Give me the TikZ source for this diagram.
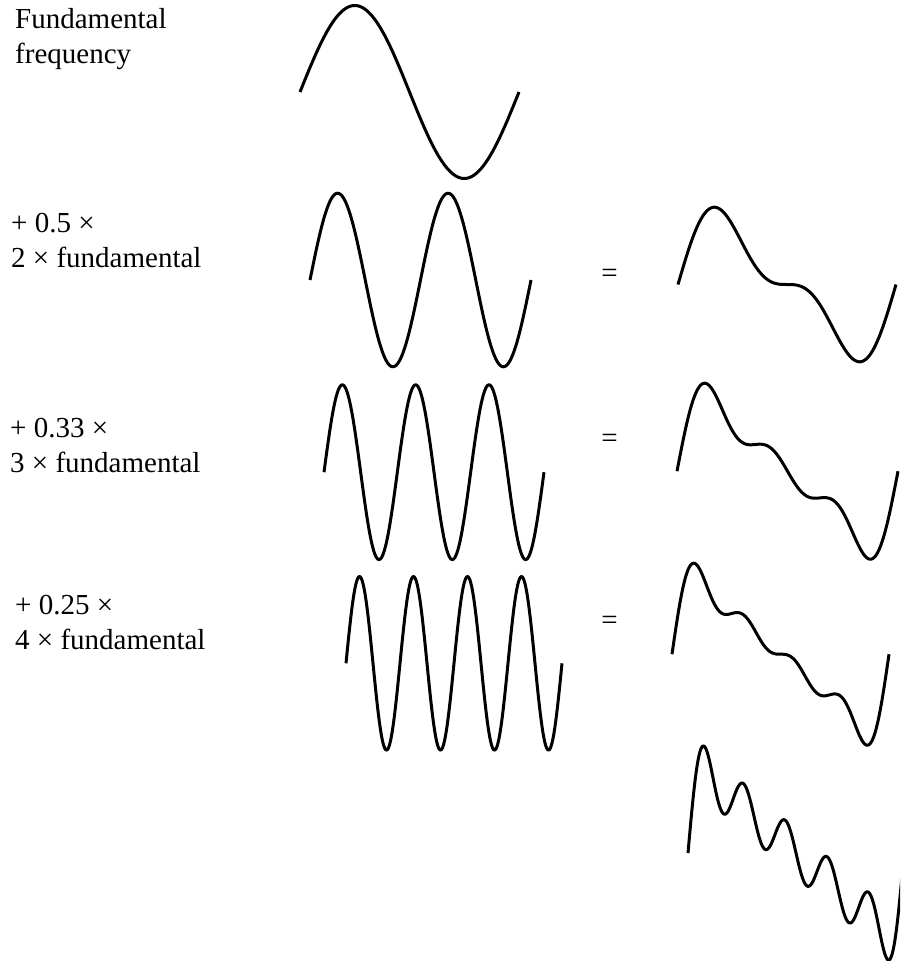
\documentclass[tikz,border=0pt]{standalone}
\usepackage{fontspec}
\setmainfont{Liberation Serif}
\usetikzlibrary{positioning}

\begin{document}
\begin{tikzpicture}[x=1pt, y=-1pt,
    onda/.style={line width=3pt, line join=round},
    rotulo/.style={anchor=north west, inner sep=0pt, align=left,
                   font=\fontsize{29}{35}\selectfont},
    igual/.style={anchor=base, inner sep=0pt, font=\fontsize{29}{35}\selectfont}]
    \useasboundingbox (0,0) rectangle (900,961);
    \clip (0,0) rectangle (900,961);

    % Rotulos
    \node[rotulo] (fund) at (15,8.5) {Fundamental\\frequency};
    \node[rotulo] (harm2) at (11,213.5) {+ 0.5 ×\\2 × fundamental};
    \node[rotulo] (harm3) at (10,418.5) {+ 0.33 ×\\3 × fundamental};
    \node[rotulo] (harm4) at (15,595) {+ 0.25 ×\\4 × fundamental};

    % Sinais de igual
    \node[igual] (igual2) at (609.5,282.4) {=};
    \node[igual] (igual3) at (609.5,447.4) {=};
    \node[igual] (igual4) at (609.5,629.4) {=};

    % Fundamental e harmonicos
    \draw[onda] plot[domain=0:360, samples=120] ({300+\x/360*219}, {92-86.5*sin(\x)});
    \draw[onda] plot[domain=0:360, samples=160] ({310+\x/360*221}, {280-86.8*sin(2*\x)});
    \draw[onda] plot[domain=0:360, samples=200] ({324+\x/360*220}, {472.2-87.4*sin(3*\x)});
    \draw[onda] plot[domain=0:360, samples=240] ({346+\x/360*216}, {663.3-86.8*sin(4*\x)});

    % Somas
    \draw[onda] plot[domain=0:360, samples=160]
        ({678+\x/360*218}, {284.5-59.5*(sin(\x)+sin(2*\x)/2)});
    \draw[onda] plot[domain=0:360, samples=200]
        ({677+\x/360*221}, {471.2-61*(sin(\x)+sin(2*\x)/2+sin(3*\x)/3)});
    \draw[onda] plot[domain=0:360, samples=240]
        ({672+\x/360*217}, {654.2-59.6*(sin(\x)+sin(2*\x)/2+sin(3*\x)/3+sin(4*\x)/4)});
    \draw[onda] plot[domain=0:360, samples=300]
        ({688+\x/360*216}, {853-60*(sin(\x)+sin(2*\x)/2+sin(3*\x)/3+sin(4*\x)/4+0.5*sin(5*\x))});
\end{tikzpicture}
\end{document}
